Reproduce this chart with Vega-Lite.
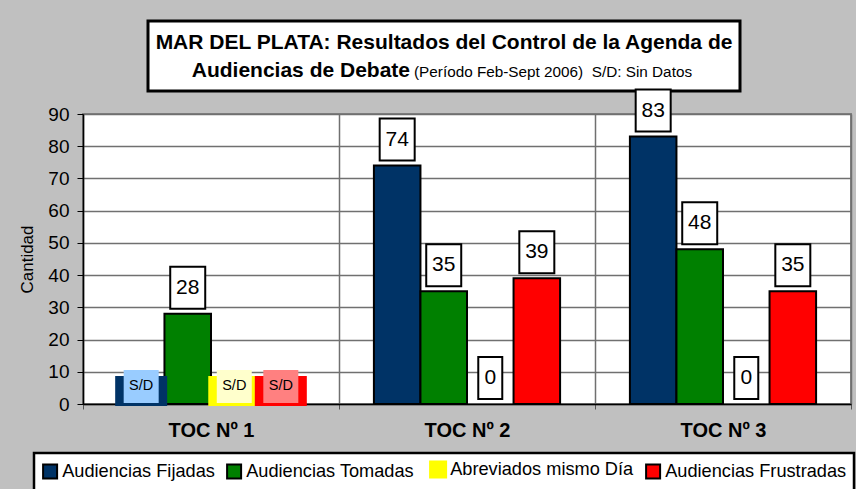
{
  "$schema": "https://vega.github.io/schema/vega-lite/v6.json",
  "background": "#C0C0C0",
  "padding": {"left": 17, "top": 19, "right": 0, "bottom": 0},
  "spacing": -9,
  "center": false,
  "bounds": "full",
  "config": {
    "font": "Liberation Sans",
    "text": {"color": "black", "font": "Liberation Sans"},
    "axisY": {"tickCount": 10, "labelFontSize": 19, "labelColor": "black", "labelPadding": 8, "tickSize": 6, "tickColor": "black", "domainColor": "black", "domainWidth": 1.5, "grid": true, "gridColor": "#707070", "gridWidth": 1.5, "titleFontSize": 17, "titleFontWeight": "normal", "titleColor": "black", "titlePadding": 11},
    "legend": {"labelLimit": 0}
  },
  "vconcat": [
    {
      "spacing": 0,
      "bounds": "full",
      "hconcat": [
        {
          "width": 63,
          "height": 70,
          "view": {"stroke": null, "fill": null},
          "data": {"values": [{}]},
          "mark": {"type": "text", "text": ""}
        },
        {
          "width": 592,
          "height": 70,
          "view": {"fill": "white", "stroke": "black", "strokeWidth": 3},
          "data": {"values": [{}]},
          "layer": [
            {"mark": {"type": "text", "text": "MAR DEL PLATA: Resultados del Control de la Agenda de", "fontSize": 21, "fontWeight": "bold", "baseline": "alphabetic", "dy": -7}},
            {"mark": {"type": "text", "text": "Audiencias de Debate", "fontSize": 21, "fontWeight": "bold", "align": "right", "baseline": "alphabetic", "dx": -34, "dy": 21}},
            {"mark": {"type": "text", "text": "(Período Feb-Sept 2006)\u00a0 S/D: Sin Datos", "fontSize": 15.3, "align": "left", "baseline": "alphabetic", "dx": -30, "dy": 21}}
          ]
        }
      ]
    },
    {
      "width": 768,
      "height": 290,
      "view": {"fill": "white", "stroke": "#808080", "strokeWidth": 2},
      "data": {
        "values": [
          {"toc": "TOC Nº 1", "serie": "Audiencias Fijadas", "value": null, "label": "S/D"},
          {"toc": "TOC Nº 1", "serie": "Audiencias Tomadas", "value": 28, "label": "28"},
          {"toc": "TOC Nº 1", "serie": "Abreviados mismo Día", "value": null, "label": "S/D"},
          {"toc": "TOC Nº 1", "serie": "Audiencias Frustradas", "value": null, "label": "S/D"},
          {"toc": "TOC Nº 2", "serie": "Audiencias Fijadas", "value": 74, "label": "74"},
          {"toc": "TOC Nº 2", "serie": "Audiencias Tomadas", "value": 35, "label": "35"},
          {"toc": "TOC Nº 2", "serie": "Abreviados mismo Día", "value": 0, "label": "0"},
          {"toc": "TOC Nº 2", "serie": "Audiencias Frustradas", "value": 39, "label": "39"},
          {"toc": "TOC Nº 3", "serie": "Audiencias Fijadas", "value": 83, "label": "83"},
          {"toc": "TOC Nº 3", "serie": "Audiencias Tomadas", "value": 48, "label": "48"},
          {"toc": "TOC Nº 3", "serie": "Abreviados mismo Día", "value": 0, "label": "0"},
          {"toc": "TOC Nº 3", "serie": "Audiencias Frustradas", "value": 35, "label": "35"}
        ]
      },
      "encoding": {
        "x": {
          "field": "toc", "type": "nominal",
          "scale": {"paddingInner": 0, "paddingOuter": 0},
          "axis": {
            "title": null, "labelAngle": 0, "labelFontSize": 20, "labelFontWeight": "bold",
            "labelColor": "black", "labelPadding": 11, "tickSize": 5, "tickColor": "#555555",
            "tickBand": "extent", "domainColor": "black", "domainWidth": 1.5,
            "grid": true, "gridColor": "#707070", "gridWidth": 1.5
          }
        },
        "xOffset": {
          "field": "serie", "type": "nominal",
          "scale": {"domain": ["Audiencias Fijadas", "Audiencias Tomadas", "Abreviados mismo Día", "Audiencias Frustradas"], "paddingInner": 0, "paddingOuter": 0.75}
        }
      },
      "layer": [
        {
          "transform": [{"filter": "datum.value > 0"}],
          "mark": {"type": "bar", "stroke": "black", "strokeWidth": 2},
          "encoding": {
            "y": {
              "field": "value", "type": "quantitative",
              "scale": {"domain": [0, 90], "nice": false},
              "axis": {"title": "Cantidad", "titleFontSize": 17, "titlePadding": 11, "titleFontWeight": "normal", "values": [0, 10, 20, 30, 40, 50, 60, 70, 80, 90]}
            },
            "color": {
              "field": "serie", "type": "nominal",
              "scale": {
                "domain": ["Audiencias Fijadas", "Audiencias Tomadas", "Abreviados mismo Día", "Audiencias Frustradas"],
                "range": ["#003366", "#008000", "#FFFF00", "#FF0000"]
              },
              "legend": {
                "orient": "none", "legendX": -49, "legendY": 432, "direction": "horizontal", "columns": 4,
                "title": null, "fillColor": "white", "strokeColor": "black", "padding": 7, "labelLimit": 0,
                "symbolType": "square", "symbolSize": 196, "symbolStrokeColor": "black", "symbolStrokeWidth": 2,
                "symbolOpacity": 1, "labelFontSize": 18.2, "labelColor": "black", "labelOffset": 3, "columnPadding": 8,
                "encode": {
                  "legend": {"update": {"strokeWidth": {"value": 2.5}}},
                  "symbols": {"update": {
                    "stroke": {"signal": "datum.value === 'Abreviados mismo Día' ? '#FFFF00' : 'black'"},
                    "fill": {"signal": "datum.value === 'Abreviados mismo Día' ? '#FFFFCC' : scale('color', datum.value)"},
                    "strokeWidth": {"signal": "datum.value === 'Abreviados mismo Día' ? 4 : 2"}
                  }}
                }
              }
            }
          }
        },
        {
          "transform": [{"filter": "datum.label === 'S/D'"}],
          "mark": {"type": "point", "shape": "M-2.6,-1.3H2.6", "size": 400, "filled": false, "opacity": 1, "strokeWidth": 30, "strokeCap": "butt"},
          "encoding": {
            "y": {"datum": 0, "type": "quantitative", "axis": {"title": "Cantidad", "titleFontSize": 17, "titlePadding": 11, "titleFontWeight": "normal", "values": [0, 10, 20, 30, 40, 50, 60, 70, 80, 90]}},
            "stroke": {
              "field": "serie", "type": "nominal",
              "scale": {"domain": ["Audiencias Fijadas", "Abreviados mismo Día", "Audiencias Frustradas"], "range": ["#003366", "#FFFF00", "#FF0000"]},
              "legend": null
            }
          }
        },
        {
          "transform": [{"filter": "datum.label === 'S/D'"}],
          "mark": {"type": "point", "shape": "M-1.75,-3.4H1.75V-0.1H-1.75Z", "size": 400, "filled": true, "opacity": 1, "strokeWidth": 0},
          "encoding": {
            "y": {"datum": 0, "type": "quantitative", "axis": {"title": "Cantidad", "titleFontSize": 17, "titlePadding": 11, "titleFontWeight": "normal", "values": [0, 10, 20, 30, 40, 50, 60, 70, 80, 90]}},
            "fill": {
              "field": "serie", "type": "nominal",
              "scale": {"domain": ["Audiencias Fijadas", "Abreviados mismo Día", "Audiencias Frustradas"], "range": ["#99CCFF", "#FFFFCC", "#FF8080"]},
              "legend": null
            }
          }
        },
        {
          "transform": [{"filter": "datum.label === 'S/D'"}],
          "mark": {"type": "text", "fontSize": 14.5, "dy": -18, "color": "black"},
          "encoding": {
            "y": {"datum": 0, "type": "quantitative", "axis": {"title": "Cantidad", "titleFontSize": 17, "titlePadding": 11, "titleFontWeight": "normal", "values": [0, 10, 20, 30, 40, 50, 60, 70, 80, 90]}},
            "text": {"field": "label"}
          }
        },
        {
          "transform": [{"filter": "datum.value != null && datum.value >= 10"}],
          "mark": {"type": "point", "shape": "M-1.75,-4.7H1.75V-0.5H-1.75Z", "size": 400, "filled": true, "opacity": 1, "fill": "white", "stroke": "black", "strokeWidth": 2},
          "encoding": {
            "y": {"field": "value", "type": "quantitative", "axis": {"title": "Cantidad", "titleFontSize": 17, "titlePadding": 11, "titleFontWeight": "normal", "values": [0, 10, 20, 30, 40, 50, 60, 70, 80, 90]}}
          }
        },
        {
          "transform": [{"filter": "datum.value != null && datum.value < 10"}],
          "mark": {"type": "point", "shape": "M-1.2,-4.7H1.2V-0.5H-1.2Z", "size": 400, "filled": true, "opacity": 1, "fill": "white", "stroke": "black", "strokeWidth": 2},
          "encoding": {
            "y": {"field": "value", "type": "quantitative", "axis": {"title": "Cantidad", "titleFontSize": 17, "titlePadding": 11, "titleFontWeight": "normal", "values": [0, 10, 20, 30, 40, 50, 60, 70, 80, 90]}}
          }
        },
        {
          "transform": [{"filter": "datum.value != null"}],
          "mark": {"type": "text", "fontSize": 21, "dy": -26, "color": "black"},
          "encoding": {
            "y": {"field": "value", "type": "quantitative", "axis": {"title": "Cantidad", "titleFontSize": 17, "titlePadding": 11, "titleFontWeight": "normal", "values": [0, 10, 20, 30, 40, 50, 60, 70, 80, 90]}},
            "text": {"field": "label"}
          }
        }
      ]
    }
  ]
}
